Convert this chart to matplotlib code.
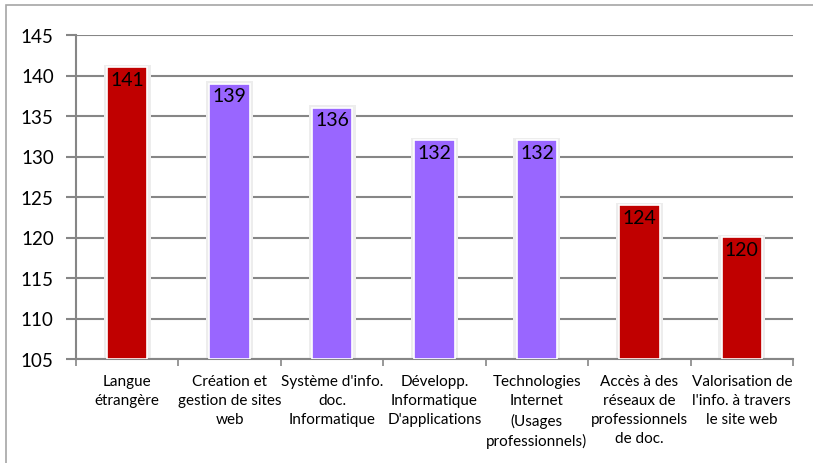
import matplotlib
matplotlib.use("Agg")
import matplotlib.pyplot as plt
from matplotlib.patches import Rectangle
import numpy as np

categories = [
    "Langue\nétrangère",
    "Création et\ngestion de sites\nweb",
    "Système d'info.\ndoc.\nInformatique",
    "Développ.\nInformatique\nD'applications",
    "Technologies\nInternet\n(Usages\nprofessionnels)",
    "Accès à des\nréseaux de\nprofessionnels\nde doc.",
    "Valorisation de\nl'info. à travers\nle site web",
]
values = [141, 139, 136, 132, 132, 124, 120]
colors = ["#C00000", "#9966FF", "#9966FF", "#9966FF", "#9966FF", "#C00000", "#C00000"]
yticks = [105, 110, 115, 120, 125, 130, 135, 140, 145]

plt.rcParams['font.family'] = ['Lato', 'DejaVu Sans']

W, H = 813, 464
fig = plt.figure(figsize=(W / 100, H / 100), dpi=100)
ax = fig.add_axes([76 / W, 1 - 360 / H, (793 - 76) / W, (360 - 36) / H])

# outer frame
fig.patches.append(Rectangle((5.5 / W, -0.1), 1.2, 1 - 6 / H + 0.1, transform=fig.transFigure,
                             fill=False, edgecolor="#A6A6A6", linewidth=1.2, zorder=0))

x = np.arange(len(values))
base = 105
heights = [v - base for v in values]
# soft shadow
ax.bar(x, [h + 0.3 for h in heights], width=0.46, bottom=base, color="#EDEDED",
       edgecolor="none", zorder=2)
bars = ax.bar(x, heights, width=0.395, bottom=base, color=colors,
              edgecolor="white", linewidth=1.2, zorder=3)

for xi, v in zip(x, values):
    ax.annotate(str(v), (xi, v), xytext=(0, -2.5), textcoords="offset points",
                ha="center", va="top", fontsize=14, color="black", zorder=4)

ax.set_ylim(105, 145)
ax.set_xlim(-0.5, len(values) - 0.5)
ax.set_yticks(yticks)
ax.set_yticklabels([str(t) for t in yticks], fontsize=13.5, color="black")
ax.yaxis.grid(True, color="#868686", linewidth=1.5, zorder=1)
ax.set_axisbelow(True)

ax.set_xticks(x)
ax.set_xticklabels(categories, fontsize=11, color="black", linespacing=1.45, va="top")
ax.set_xticks(np.arange(len(values) + 1) - 0.5, minor=True)
ax.tick_params(axis="x", which="major", length=0, pad=11)
ax.tick_params(axis="x", which="minor", length=5, width=1.2, color="#868686", direction="out")
ax.tick_params(axis="y", length=7, width=1.5, color="#868686", pad=9)

for s in ["top", "right"]:
    ax.spines[s].set_visible(False)
for s in ["left", "bottom"]:
    ax.spines[s].set_color("#868686")
    ax.spines[s].set_linewidth(1.5)

fig.savefig("out.png", dpi=100)
